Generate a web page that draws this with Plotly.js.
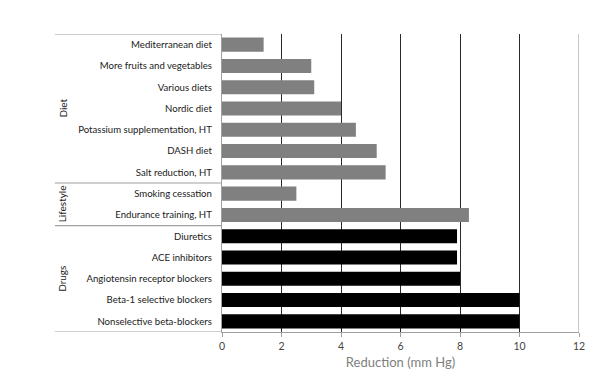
<!DOCTYPE html>
<html><head><meta charset="utf-8">
<script src="https://cdn.plot.ly/plotly-3.0.1.min.js"></script>
<style>html,body{margin:0;padding:0;background:#fff}#chart{width:616px;height:376px}</style>
</head><body><div id="chart"></div>
<script>
const categories = ["Mediterranean diet","More fruits and vegetables","Various diets","Nordic diet","Potassium supplementation, HT","DASH diet","Salt reduction, HT","Smoking cessation","Endurance training, HT","Diuretics","ACE inhibitors","Angiotensin receptor blockers","Beta-1 selective blockers","Nonselective beta-blockers"];
const values = [1.4,3.0,3.1,4.0,4.5,5.2,5.5,2.5,8.3,7.9,7.9,8.0,10,10];
const groups = ["Diet","Diet","Diet","Diet","Diet","Diet","Diet","Lifestyle","Lifestyle","Drugs","Drugs","Drugs","Drugs","Drugs"];
const groupNames = ["Diet","Lifestyle","Drugs"];
const xTicks = [0,2,4,6,8,10,12];

const colors = groups.map(g => g === "Drugs" ? "#000000" : "#808080");
const labelFont = "Lato, sans-serif";

const bounds = [];
const mids = [];
groupNames.forEach(g => {
  const idx = groups.map((v,i)=>v===g?i:-1).filter(i=>i>=0);
  const a = Math.min(...idx), b = Math.max(...idx);
  bounds.push(a-0.5); mids.push((a+b)/2);
  if (g === groupNames[groupNames.length-1]) bounds.push(b+0.5);
});

const shapes = bounds.map(yv => ({type:'line', xref:'paper', yref:'y', x0:-0.468, x1:0, y0:yv, y1:yv, line:{color:'#a0a0a0', width:1.2}}));
const annotations = groupNames.map((g,i) => ({text:g, xref:'paper', yref:'y', x:-0.448, xanchor:'center', yanchor:'middle', y:mids[i], showarrow:false, textangle:-90, font:{family:labelFont, size:10, color:'#1a1a1a'}}));

Plotly.newPlot('chart', [{
  type:'bar', orientation:'h', x:values, y:categories,
  marker:{color:colors, line:{width:0}}, hoverinfo:'none'
}], {
  width:616, height:376,
  margin:{l:222, r:37, t:34, b:44},
  paper_bgcolor:'#fff', plot_bgcolor:'#fff',
  bargap:0.34,
  showlegend:false,
  xaxis:{range:[0,12], tickvals:xTicks, ticktext:xTicks.map(String), showgrid:true, gridcolor:'#2a2a2a', gridwidth:1,
    zeroline:false, showline:true, linecolor:'#a0a0a0', linewidth:1.2, ticks:'outside', ticklen:4, tickcolor:'#a0a0a0',
    tickfont:{family:'Lato, sans-serif', size:10.5, color:'#444'},
    title:{text:'Reduction (mm Hg)', font:{family:'Lato, sans-serif', size:13, color:'#808080'}, standoff:7}},
  yaxis:{type:'category', categoryorder:'array', categoryarray:categories, range:[categories.length-0.5,-0.5],
    showgrid:false, zeroline:false, showline:true, linecolor:'#a0a0a0', linewidth:1.2, ticks:'', ticklabelstandoff:7,
    tickfont:{family:labelFont, size:9.6, color:'#1a1a1a'}},
  shapes: shapes.concat([{type:'line', xref:'x', yref:'paper', x0:12, x1:12, y0:0, y1:1, line:{color:'#909090', width:1}}]),
  annotations: annotations
}, {staticPlot:true});
</script></body></html>
